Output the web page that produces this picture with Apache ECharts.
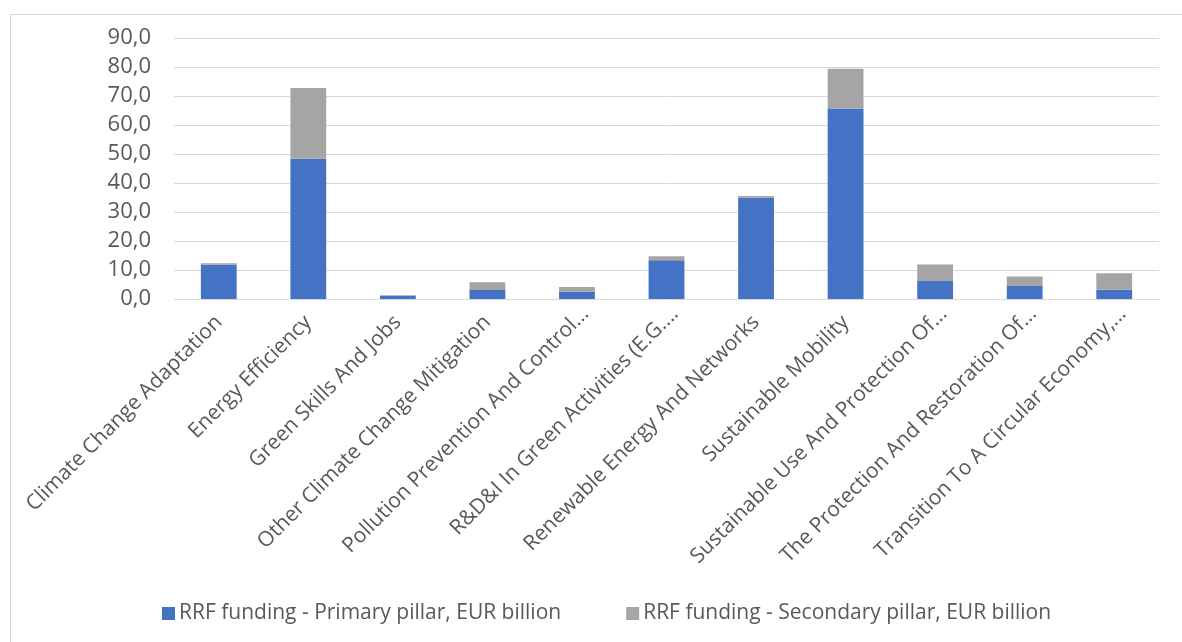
<!DOCTYPE html>
<html>
<head>
<meta charset="utf-8">
<script src="https://cdn.jsdelivr.net/npm/echarts@6/dist/echarts.min.js"></script>
<style>
  html, body { margin: 0; padding: 0; background: #ffffff; }
  #chart { width: 1182px; height: 642px; }
</style>
</head>
<body>
<div id="chart"></div>
<script>
// Green objectives of the Recovery and Resilience Facility
const categories = [
  'Climate Change Adaptation',
  'Energy Efficiency',
  'Green Skills And Jobs',
  'Other Climate Change Mitigation',
  'Pollution Prevention And Control...',
  'R&D&I In Green Activities (E.G....',
  'Renewable Energy And Networks',
  'Sustainable Mobility',
  'Sustainable Use And Protection Of...',
  'The Protection And Restoration Of...',
  'Transition To A Circular Economy,...'
];
// EUR billion
const primaryPillar = [11.8, 48.4, 1.0, 3.1, 2.5, 13.4, 34.9, 65.7, 6.2, 4.5, 3.2];
const secondaryPillar = [0.5, 24.4, 0.3, 2.7, 1.6, 1.3, 0.6, 13.7, 5.7, 3.3, 5.7];
const seriesNames = [
  'RRF funding - Primary pillar, EUR billion',
  'RRF funding - Secondary pillar, EUR billion'
];

const FONT = 'Open Sans';
const TEXT = '#595959';
const LINE = '#d9d9d9';

// shortened names sit a little further along their slant
const axisCategories = categories.map(name =>
  name.endsWith('...')
    ? { value: name, textStyle: { padding: [0, -12, 0, 0] } }
    : name
);

const chart = echarts.init(document.getElementById('chart'), null, { renderer: 'canvas' });

chart.setOption({
  backgroundColor: '#ffffff',
  animation: false,
  textStyle: { fontFamily: FONT, color: TEXT },
  graphic: [{
    type: 'rect',
    shape: { x: 10.5, y: 14.5, width: 1300, height: 1000 },
    style: { fill: 'none', stroke: LINE, lineWidth: 1 },
    silent: true,
    z: -1
  }],
  grid: { left: 174, right: 23, top: 38, bottom: 343 },
  legend: {
    left: 157,
    top: 598,
    itemWidth: 13,
    itemHeight: 13,
    itemGap: 65,
    icon: 'rect',
    textStyle: { fontFamily: FONT, fontSize: 21, color: TEXT, padding: [0, 0, 0, -1] },
    data: seriesNames
  },
  xAxis: {
    type: 'category',
    data: axisCategories,
    axisLine: { lineStyle: { color: LINE, width: 1 } },
    axisTick: { show: false },
    axisLabel: {
      interval: 0,
      rotate: 45,
      margin: 20,
      fontFamily: FONT,
      fontSize: 21,
      color: TEXT
    }
  },
  yAxis: {
    type: 'value',
    min: 0,
    max: 90,
    interval: 10,
    axisLine: { show: false },
    axisTick: { show: false },
    splitLine: { lineStyle: { color: LINE, width: 1 } },
    axisLabel: {
      margin: 23,
      fontFamily: FONT,
      fontSize: 22,
      color: TEXT,
      formatter: v => v.toFixed(1).replace('.', ',')
    }
  },
  series: [
    {
      name: seriesNames[0],
      type: 'bar',
      stack: 'pillar',
      barWidth: '40%',
      itemStyle: { color: '#4472c4' },
      data: primaryPillar
    },
    {
      name: seriesNames[1],
      type: 'bar',
      stack: 'pillar',
      barWidth: '40%',
      itemStyle: { color: '#a5a5a5' },
      data: secondaryPillar
    }
  ]
});
</script>
</body>
</html>
